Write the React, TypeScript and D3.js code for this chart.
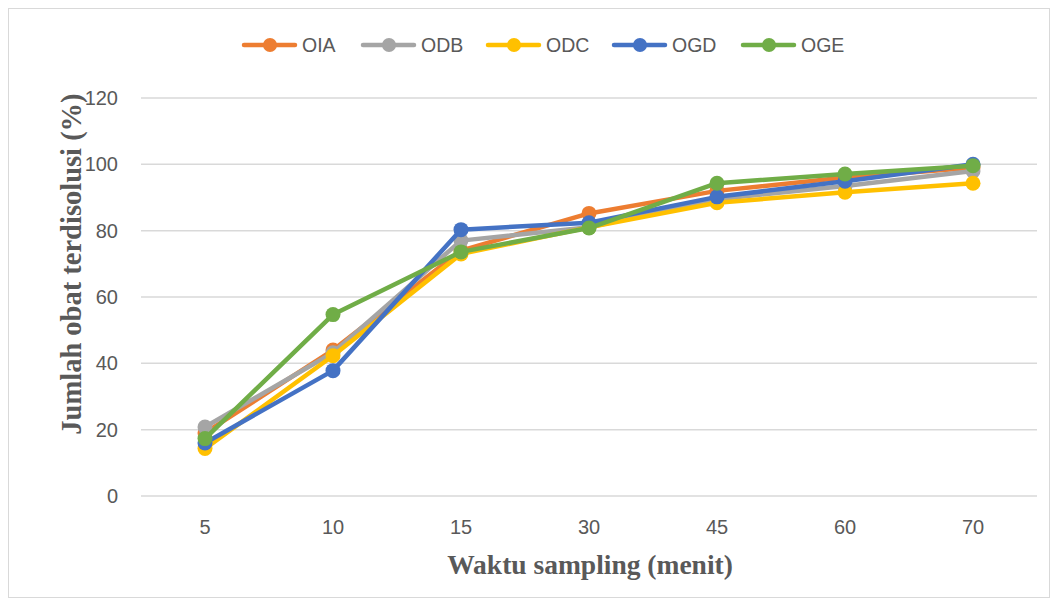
import React from "react";
import * as d3 from "d3";

const categories = ["5", "10", "15", "30", "45", "60", "70"];
const seriesNames = ["OIA", "ODB", "ODC", "OGD", "OGE"];
const seriesColors = ["#ED7D31", "#A5A5A5", "#FFC000", "#4472C4", "#70AD47"];
const OIA = [19, 44, 74, 85.2, 92, 96, 99];
const ODB = [20.8, 43.2, 77, 81, 89.5, 93.5, 98];
const ODC = [14.3, 42.3, 73, 81, 88.4, 91.6, 94.3];
const OGD = [16, 37.8, 80.3, 82.4, 90.2, 94.9, 100];
const OGE = [17.3, 54.7, 73.6, 80.8, 94.3, 97.1, 99.6];
const yTicks = [0, 20, 40, 60, 80, 100, 120];

const seriesValues = [OIA, ODB, ODC, OGD, OGE];

export default function App() {
  const W = 1042;
  const H = 590;
  const ox = 8;
  const oy = 8;
  const x = d3.scaleBand<string>().domain(categories).range([141 - ox, 1037 - ox]);
  const y = d3.scaleLinear().domain([0, 120]).range([496 - oy, 98 - oy]);
  const cx = (c: string) => (x(c) as number) + x.bandwidth() / 2;
  const line = d3
    .line<number>()
    .x((_, i) => cx(categories[i]))
    .y((v) => y(v));
  const legendX = [242, 361, 486, 612, 741];
  return (
    <svg width={W} height={H} style={{ display: "block" }}>
      <rect x={0.5} y={0.5} width={W - 1} height={H - 1} fill="#fff" stroke="#d9d9d9" />
      {yTicks.map((t) => (
        <g key={t}>
          <line x1={141 - ox} x2={1037 - ox} y1={y(t)} y2={y(t)} stroke="#d9d9d9" strokeWidth={1.5} />
          <text
            x={118 - ox}
            y={y(t)}
            dy="0.35em"
            textAnchor="end"
            fontFamily="Liberation Sans, Arial, sans-serif"
            fontSize={20}
            fill="#595959"
          >
            {t}
          </text>
        </g>
      ))}
      {categories.map((c) => (
        <text
          key={c}
          x={cx(c)}
          y={527 - oy}
          dy="0.35em"
          textAnchor="middle"
          fontFamily="Liberation Sans, Arial, sans-serif"
          fontSize={20}
          fill="#595959"
        >
          {c}
        </text>
      ))}
      {seriesValues.map((vals, si) => (
        <g key={seriesNames[si]}>
          <path
            d={line(vals) || ""}
            fill="none"
            stroke={seriesColors[si]}
            strokeWidth={4.5}
            strokeLinejoin="round"
            strokeLinecap="round"
          />
          {vals.map((v, i) => (
            <circle key={i} cx={cx(categories[i])} cy={y(v)} r={7.5} fill={seriesColors[si]} />
          ))}
        </g>
      ))}
      {seriesNames.map((n, i) => (
        <g key={n} transform={`translate(${legendX[i] - ox},${45 - oy})`}>
          <line x1={2} x2={53} y1={0} y2={0} stroke={seriesColors[i]} strokeWidth={4.5} strokeLinecap="round" />
          <circle cx={28} cy={0} r={7} fill={seriesColors[i]} />
          <text
            x={60}
            y={0}
            dy="0.35em"
            fontFamily="Liberation Sans, Arial, sans-serif"
            fontSize={19.5}
            fill="#595959"
          >
            {n}
          </text>
        </g>
      ))}
      <text
        transform={`translate(${81 - ox},${264 - oy}) rotate(-90)`}
        textAnchor="middle"
        fontFamily="Liberation Serif, Times New Roman, serif"
        fontWeight="bold"
        fontSize={28.5}
        fill="#595959"
      >
        Jumlah obat terdisolusi (%)
      </text>
      <text
        x={590 - ox}
        y={574 - oy}
        textAnchor="middle"
        fontFamily="Liberation Serif, Times New Roman, serif"
        fontWeight="bold"
        fontSize={27.5}
        fill="#595959"
      >
        Waktu sampling (menit)
      </text>
    </svg>
  );
}
